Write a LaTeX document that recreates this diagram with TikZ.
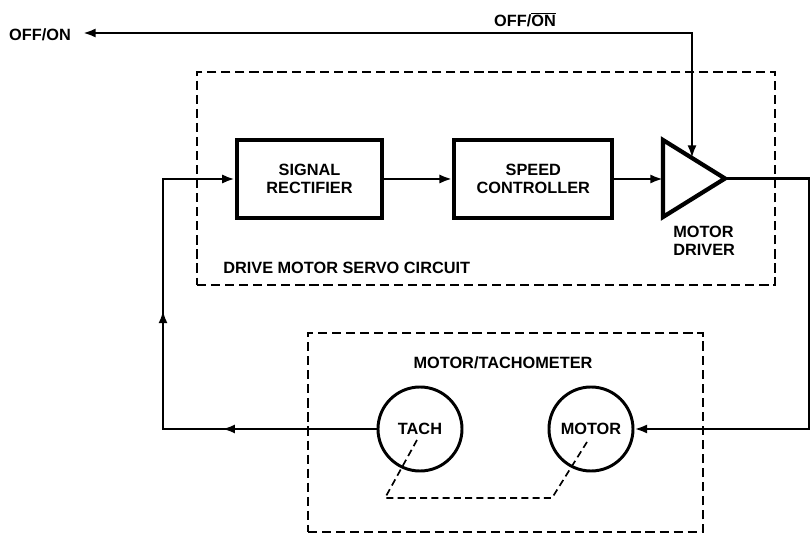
\documentclass[tikz,border=0pt]{standalone}
\usepackage{fontspec}
\setmainfont{Liberation Sans}
\usetikzlibrary{arrows.meta,positioning,calc,decorations.markings}

\begin{document}
\begin{tikzpicture}[
    x=0.025cm, y=-0.025cm,
    >={Latex[length=9pt,width=6.5pt]},
    font=\fontsize{11.6}{13}\selectfont\bfseries,
    wire/.style={line width=2.1pt},
    blockbox/.style={draw, rectangle, line width=3pt, minimum height=1.95cm, align=center, inner sep=2pt},
    groupbox/.style={draw, rectangle, line width=1.6pt, dash pattern=on 6.5pt off 3.5pt},
    unitcircle/.style={draw, circle, line width=2.1pt, minimum size=2.1cm, inner sep=0pt},
    shaft/.style={line width=1.2pt, dash pattern=on 5pt off 3pt},
    lbl/.style={inner sep=0pt},
    fbtips/.style={postaction={decorate}, decoration={markings,
        mark=at position 0.288 with {\arrow{>}},
        mark=at position 0.62 with {\arrow{>}}}},
  ]
    \useasboundingbox (0,0) rectangle (811,536);

    % outer groups
    \node[groupbox, minimum width=14.45cm, minimum height=5.325cm] (servo) at (486,178.5) {};
    \node[groupbox, minimum width=9.875cm, minimum height=4.975cm] (mtbox) at (505.5,432.5) {};

    % servo blocks
    \node[blockbox, minimum width=3.625cm] (rect) at (309.5,179) {SIGNAL\\RECTIFIER};
    \node[blockbox, minimum width=3.95cm, right=1.7cm of rect] (speed) {SPEED\\CONTROLLER};
    \draw[line width=3pt, line join=miter] (663,140) -- (725,178.5) -- (663,217) -- cycle;
    \coordinate (drvin) at (663,179);
    \coordinate (drvout) at (725,178.5);
    \coordinate (drvtop) at (692,158);

    % motor and tach
    \node[unitcircle] (tach) at (420,429) {TACH};
    \node[unitcircle, right=2.1cm of tach] (motor) {MOTOR};

    % labels
    \node[lbl] (offonL) at (40,35) {OFF/ON};
    \node[lbl] (offonR) at (525,20) {OFF/$\overline{\mbox{ON}}$};
    \node[lbl, anchor=west] (servolbl) at (223,268) {DRIVE MOTOR SERVO CIRCUIT};
    \node[lbl, anchor=west, align=left] (drvlbl) at (673,241) {MOTOR\\DRIVER};
    \node[lbl] (mtlbl) at (503,363) {MOTOR/TACHOMETER};

    % connections
    \coordinate (offtip) at (83,33);
    \coordinate (rtcorner) at (809,429);
    \coordinate (fbcorner) at (163,429);
    \draw[wire, <->] (offtip) -| (drvtop);
    \draw[wire, ->] (rect.east) -- (speed.west);
    \draw[wire, ->] (speed.east) -- (drvin);
    \draw[wire, ->] (drvout) -| (rtcorner) -- (motor.east);
    \draw[wire, ->, fbtips] (tach.west) -- (fbcorner) |- (rect.west);

    % shaft linkage
    \coordinate (shaftL) at (385,498);
    \coordinate (shaftR) at (552,498);
    \draw[shaft] ([shift={(-3,11)}]tach.center) -- (shaftL) -- (shaftR) -- ([shift={(-4,13)}]motor.center);
\end{tikzpicture}
\end{document}
